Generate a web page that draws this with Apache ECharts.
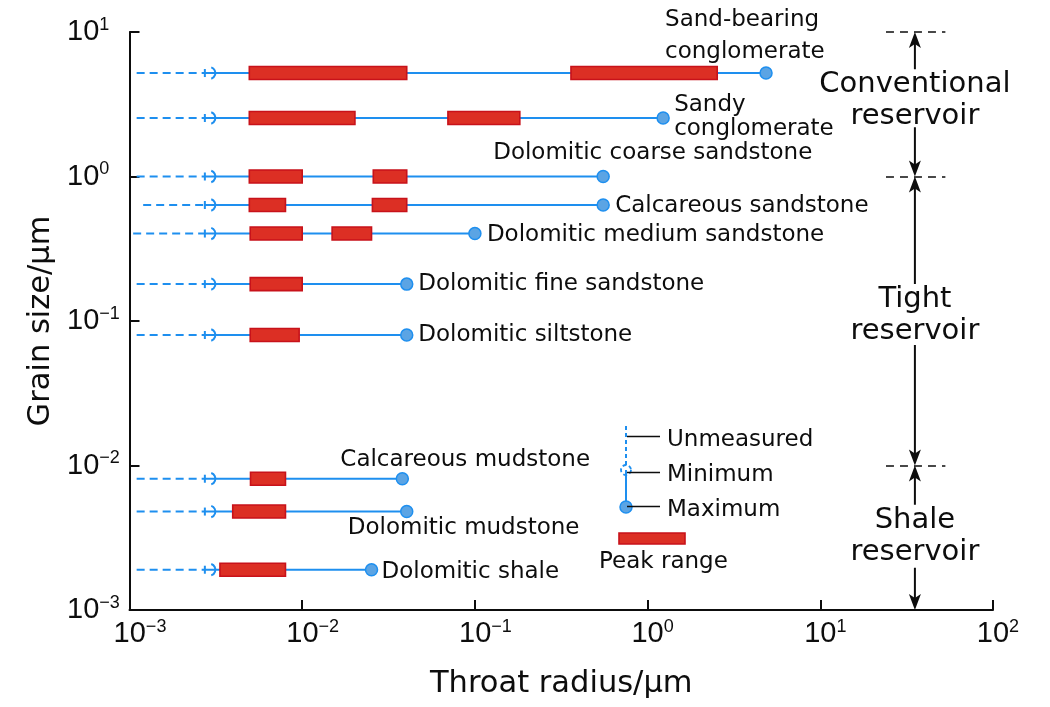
<!DOCTYPE html>
<html><head><meta charset="utf-8">
<script src="https://cdn.jsdelivr.net/npm/echarts@6.0.0/dist/echarts.min.js"></script>
<style>html,body{margin:0;padding:0;background:#fff}#c{width:1050px;height:707px}</style>
</head><body><div id="c"></div>
<script>
// ---------------- data ----------------
const rockTypes = [
  'Sand-bearing\nconglomerate', 'Sandy\nconglomerate', 'Dolomitic coarse sandstone',
  'Calcareous sandstone', 'Dolomitic medium sandstone', 'Dolomitic fine sandstone',
  'Dolomitic siltstone', 'Calcareous mudstone', 'Dolomitic mudstone', 'Dolomitic shale'
];
const grainSize = [5.2, 2.54, 1.0, 0.635, 0.403, 0.18, 0.08, 0.0081, 0.0048, 0.0019];
const unmeasuredFrom = [0.0011, 0.0011, 0.0011, 0.0012, 0.00105, 0.0011, 0.0011, 0.0011, 0.0011, 0.0011];
const minRadius = [0.0029, 0.0029, 0.0029, 0.0029, 0.0029, 0.0029, 0.0029, 0.0029, 0.0029, 0.0029];
const maxRadius = [4.85, 1.23, 0.553, 0.553, 0.1, 0.0403, 0.0403, 0.038, 0.0403, 0.0252];
const peakRanges = [
  [[0.00494, 0.0403], [0.36, 2.53]],
  [[0.00494, 0.0202], [0.0698, 0.182]],
  [[0.00494, 0.01], [0.0258, 0.0403]],
  [[0.00494, 0.008], [0.0255, 0.0403]],
  [[0.005, 0.01], [0.0149, 0.0252]],
  [[0.005, 0.01]],
  [[0.005, 0.0096]],
  [[0.00502, 0.008]],
  [[0.00396, 0.008]],
  [[0.00334, 0.008]]
];
const zoneNames = ['Conventional\nreservoir', 'Tight\nreservoir', 'Shale\nreservoir'];
const zoneBounds = [10, 1, 0.01, 0.001];
const zoneRadius = 35.3;          // throat radius where the zone arrows stand
const zoneDashSpan = [24, 53];    // throat radius extent of the dashed boundaries
const legendTexts = ['Unmeasured', 'Minimum', 'Maximum', 'Peak range'];
const xAxisTitle = 'Throat radius/μm';
const yAxisTitle = 'Grain size/μm';

// ---------------- styles ----------------
const BLUE = '#1E8FEF';
const DOT_FILL = '#5BA4E4';
const RED = '#DC2F24';
const RED_EDGE = '#C8121A';
const INK = '#0d0d0d';
const TXT = 'DejaVu Sans';
const NUM = 'Liberation Sans';
const labelOffsets = [[-101, -37], [11, -1], [-110, -23], [12, 1], [12, 1], [11.5, 0], [11.5, 0], [-62, -19], [-59, 16.5], [10, 2]];
const labelLineHeights = [32, 24, 26, 26, 26, 26, 26, 26, 26, 26];
const zoneLabelShift = [-4, -6, -1];
const zoneLabelHalf = [[31, 27], [31, 30], [32, 31]];

function expText(v) {
  const e = Math.round(Math.log10(v));
  return e < 0 ? '\u2212' + (-e) : String(e);
}

const rowData = grainSize.map((g, i) => [unmeasuredFrom[i], minRadius[i], maxRadius[i], g]);
const peakData = [];
peakRanges.forEach((ranges, i) => ranges.forEach(r => peakData.push([r[0], r[1], grainSize[i]])));
const zoneData = zoneNames.map((n, i) => [zoneRadius, zoneBounds[i], zoneBounds[i + 1]]);
const dashLines = zoneBounds.slice(0, 3).map(b => [
  { coord: [zoneDashSpan[0], b] }, { coord: [zoneDashSpan[1], b] }
]);

function renderRow(params, api) {
  const y = api.value(3);
  const s = api.coord([api.value(0), y]);
  const m = api.coord([api.value(1), y]);
  const e = api.coord([api.value(2), y]);
  return {
    type: 'group',
    children: [
      { type: 'line', shape: { x1: s[0], y1: s[1], x2: m[0] - 5, y2: m[1] },
        style: { stroke: BLUE, lineWidth: 2, lineDash: [8, 5] } },
      { type: 'line', shape: { x1: m[0] - 4.5, y1: m[1] - 4, x2: m[0] - 4.5, y2: m[1] + 4 },
        style: { stroke: BLUE, lineWidth: 2 } },
      { type: 'arc', shape: { cx: m[0], cy: m[1], r: 6, startAngle: -1.25, endAngle: 1.25, clockwise: true },
        style: { stroke: BLUE, fill: null, lineWidth: 2 } },
      { type: 'line', shape: { x1: m[0] - 4.5, y1: m[1], x2: e[0], y2: e[1] },
        style: { stroke: BLUE, lineWidth: 2 } }
    ]
  };
}

function renderPeak(params, api) {
  const y = api.value(2);
  const a = api.coord([api.value(0), y]);
  const b = api.coord([api.value(1), y]);
  return {
    type: 'rect',
    shape: { x: a[0], y: a[1] - 6.5, width: b[0] - a[0], height: 13 },
    style: { fill: RED, stroke: RED_EDGE, lineWidth: 1.6 }
  };
}

function arrowHead(x, tipY, dir) {
  const L = 16, W = 6, N = 4;
  return {
    type: 'polygon',
    shape: { points: [[x, tipY], [x - W, tipY - dir * L], [x, tipY - dir * (L - N)], [x + W, tipY - dir * L]] },
    style: { fill: INK }
  };
}

function renderZone(params, api) {
  const i = params.dataIndex;
  const top = api.coord([api.value(0), api.value(1)]);
  const bot = api.coord([api.value(0), api.value(2)]);
  const x = top[0];
  const cy = (top[1] + bot[1]) / 2 + zoneLabelShift[i];
  const t1 = cy - zoneLabelHalf[i][0];
  const b1 = cy + zoneLabelHalf[i][1];
  return {
    type: 'group',
    children: [
      { type: 'line', shape: { x1: x, y1: top[1] + 4, x2: x, y2: t1 }, style: { stroke: INK, lineWidth: 2 } },
      { type: 'line', shape: { x1: x, y1: b1, x2: x, y2: bot[1] - 4 }, style: { stroke: INK, lineWidth: 2 } },
      arrowHead(x, top[1], -1),
      arrowHead(x, bot[1], 1),
      {
        type: 'text', x: x, y: cy,
        style: {
          text: zoneNames[i], font: '29px "DejaVu Sans"', lineHeight: 32, fill: INK,
          align: 'center', verticalAlign: 'middle'
        }
      }
    ]
  };
}

const chart = echarts.init(document.getElementById('c'), null, { renderer: 'canvas' });
chart.setOption({
  animation: false,
  backgroundColor: '#fff',
  grid: { left: 129.5, right: 57, top: 32, bottom: 97 },
  xAxis: {
    type: 'log', logBase: 10, min: 0.001, max: 100, splitNumber: 5,
    name: xAxisTitle, nameLocation: 'middle', nameGap: 59,
    nameTextStyle: { fontFamily: TXT, fontSize: 30.5, color: INK },
    axisLine: { show: true, lineStyle: { color: INK, width: 2 } },
    axisTick: { show: true, inside: true, length: 10, lineStyle: { color: INK, width: 2 } },
    minorTick: { show: false },
    splitLine: { show: false },
    axisLabel: {
      margin: 8, fontFamily: NUM, fontSize: 29, color: INK,
      formatter: v => {
        const ex = expText(v);
        return '{' + (ex.length > 1 ? 'bw' : 'bn') + '|10}{e|' + ex + '}';
      },
      rich: {
        bw: { fontFamily: NUM, fontSize: 29, lineHeight: 32, color: INK, padding: [0, 0, 0, 21] },
        bn: { fontFamily: NUM, fontSize: 29, lineHeight: 32, color: INK, padding: [0, 0, 0, 10] },
        e: { fontFamily: NUM, fontSize: 18, lineHeight: 18, verticalAlign: 'top', color: INK }
      }
    }
  },
  yAxis: {
    type: 'log', logBase: 10, min: 0.001, max: 10, splitNumber: 4,
    name: yAxisTitle, nameLocation: 'middle', nameGap: 70, nameRotate: 90,
    nameTextStyle: { fontFamily: TXT, fontSize: 30.5, color: INK },
    axisLine: { show: true, lineStyle: { color: INK, width: 2 } },
    axisTick: { show: true, inside: true, length: 10, lineStyle: { color: INK, width: 2 } },
    minorTick: { show: false },
    splitLine: { show: false },
    axisLabel: {
      margin: 62.5, align: 'left', fontFamily: NUM, fontSize: 29, color: INK,
      formatter: v => '{b|10}{e|' + expText(v) + '}',
      rich: {
        b: { fontFamily: NUM, fontSize: 29, lineHeight: 32, color: INK },
        e: { fontFamily: NUM, fontSize: 18, lineHeight: 18, verticalAlign: 'top', color: INK }
      }
    }
  },
  series: [
    {
      type: 'line', data: [], z: 1, silent: true,
      markLine: {
        silent: true, animation: false, symbol: ['none', 'none'],
        label: { show: false },
        lineStyle: { color: INK, width: 1.5, type: [8, 6] },
        emphasis: { disabled: true },
        data: dashLines
      }
    },
    {
      type: 'custom', renderItem: renderZone, data: zoneData, z: 1, silent: true,
      encode: { x: 0, y: [1, 2] }, clip: false
    },
    {
      type: 'custom', renderItem: renderRow, data: rowData, z: 2, silent: true,
      encode: { x: [0, 1, 2], y: 3 }, clip: false
    },
    {
      type: 'custom', renderItem: renderPeak, data: peakData, z: 3, silent: true,
      encode: { x: [0, 1], y: 2 }, clip: false
    },
    {
      type: 'scatter', z: 4, silent: true, symbol: 'circle', symbolSize: 12,
      itemStyle: { color: DOT_FILL, borderColor: BLUE, borderWidth: 1.5, opacity: 1 },
      label: {
        show: true, position: 'inside', align: 'left', verticalAlign: 'middle',
        fontFamily: TXT, fontSize: 23, color: INK,
        formatter: p => rockTypes[p.dataIndex]
      },
      data: maxRadius.map((x, i) => ({
        value: [x, grainSize[i]],
        label: { offset: labelOffsets[i], lineHeight: labelLineHeights[i] }
      }))
    }
  ],
  graphic: [
    { type: 'line', shape: { x1: 626, y1: 426, x2: 626, y2: 465 }, style: { stroke: BLUE, lineWidth: 2, lineDash: [4, 3] } },
    { type: 'circle', shape: { cx: 626, cy: 470, r: 5 }, style: { stroke: BLUE, fill: null, lineWidth: 1.8, lineDash: [4, 2.5] } },
    { type: 'line', shape: { x1: 626, y1: 470, x2: 626, y2: 507 }, style: { stroke: BLUE, lineWidth: 2 } },
    { type: 'circle', shape: { cx: 626, cy: 507, r: 6 }, style: { fill: DOT_FILL, stroke: BLUE, lineWidth: 1.5 } },
    { type: 'line', shape: { x1: 627, y1: 436.5, x2: 660, y2: 436.5 }, style: { stroke: INK, lineWidth: 1.6 } },
    { type: 'line', shape: { x1: 627, y1: 472.5, x2: 660, y2: 472.5 }, style: { stroke: INK, lineWidth: 1.6 } },
    { type: 'line', shape: { x1: 627, y1: 506.5, x2: 660, y2: 506.5 }, style: { stroke: INK, lineWidth: 1.6 } },
    { type: 'text', x: 667, y: 440, style: { text: legendTexts[0], font: '23px "DejaVu Sans"', fill: INK, verticalAlign: 'middle', align: 'left' } },
    { type: 'text', x: 667, y: 475, style: { text: legendTexts[1], font: '23px "DejaVu Sans"', fill: INK, verticalAlign: 'middle', align: 'left' } },
    { type: 'text', x: 667, y: 510, style: { text: legendTexts[2], font: '23px "DejaVu Sans"', fill: INK, verticalAlign: 'middle', align: 'left' } },
    { type: 'rect', shape: { x: 619, y: 533, width: 66, height: 11 }, style: { fill: RED, stroke: RED_EDGE, lineWidth: 1.6 } },
    { type: 'text', x: 599, y: 562, style: { text: legendTexts[3], font: '23px "DejaVu Sans"', fill: INK, verticalAlign: 'middle', align: 'left' } }
  ]
});
</script>
</body></html>
